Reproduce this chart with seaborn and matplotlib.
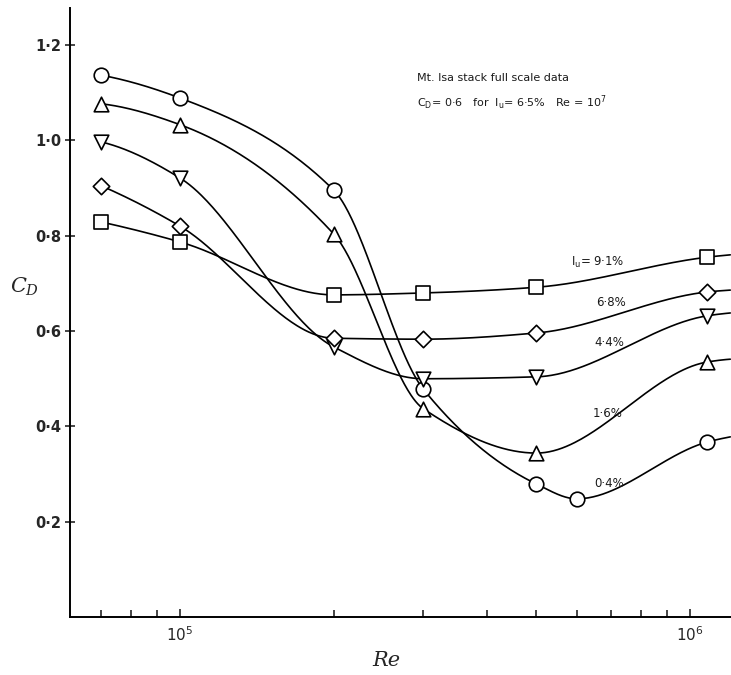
import numpy as np
import pandas as pd
import matplotlib
matplotlib.use('Agg')
import matplotlib.pyplot as plt
import matplotlib.ticker as mticker
import seaborn as sns

re_04 = [7e4, 1e5, 2e5, 3e5, 5e5, 6e5, 1.08e6]
cd_04 = [1.137, 1.089, 0.896, 0.478, 0.279, 0.248, 0.367]
re_16 = [7e4, 1e5, 2e5, 3e5, 5e5, 1.08e6]
cd_16 = [1.077, 1.033, 0.804, 0.437, 0.344, 0.535]
re_44 = [7e4, 1e5, 2e5, 3e5, 5e5, 1.08e6]
cd_44 = [0.997, 0.921, 0.567, 0.500, 0.504, 0.632]
re_68 = [7e4, 1e5, 2e5, 3e5, 5e5, 1.08e6]
cd_68 = [0.905, 0.820, 0.585, 0.583, 0.596, 0.682]
re_91 = [7e4, 1e5, 2e5, 3e5, 5e5, 1.08e6]
cd_91 = [0.829, 0.787, 0.676, 0.680, 0.692, 0.755]

# where each hand-drawn curve leaves the frame (right edge)
re_edge = 1.2e6
cd_edge = [0.378, 0.541, 0.638, 0.686, 0.760]

labels = ['0·4%', '1·6%', '4·4%', '6·8%', 'I$_{\\rm u}$= 9·1%']
markers = ['o', '^', 'v', 'D', 's']
marker_sizes = [110, 110, 110, 70, 100]
label_re = [6.95e5, 6.9e5, 6.95e5, 7.0e5, 6.6e5]
label_cd = [0.281, 0.428, 0.575, 0.659, 0.745]

series = [(re_04, cd_04), (re_16, cd_16), (re_44, cd_44),
          (re_68, cd_68), (re_91, cd_91)]


def pchip_curve(x, y, n=80):
    """Monotone piecewise cubic (Fritsch-Butland) through the points."""
    x = np.asarray(x, float)
    y = np.asarray(y, float)
    h = np.diff(x)
    s = np.diff(y) / h
    d = np.zeros_like(y)
    for i in range(1, len(x) - 1):
        if s[i - 1] * s[i] > 0:
            w1 = 2 * h[i] + h[i - 1]
            w2 = h[i] + 2 * h[i - 1]
            d[i] = (w1 + w2) / (w1 / s[i - 1] + w2 / s[i])

    def end_slope(h0, h1, s0, s1):
        v = ((2 * h0 + h1) * s0 - h0 * s1) / (h0 + h1)
        if np.sign(v) != np.sign(s0):
            return 0.0
        if np.sign(s0) != np.sign(s1) and abs(v) > 3 * abs(s0):
            return 3 * s0
        return v

    d[0] = end_slope(h[0], h[1], s[0], s[1])
    d[-1] = end_slope(h[-1], h[-2], s[-1], s[-2])
    xs, ys = [], []
    for i in range(len(h)):
        t = np.linspace(0, 1, n, endpoint=(i == len(h) - 1))
        h00 = 2 * t**3 - 3 * t**2 + 1
        h10 = t**3 - 2 * t**2 + t
        h01 = -2 * t**3 + 3 * t**2
        h11 = t**3 - t**2
        xs.append(x[i] + t * h[i])
        ys.append(h00 * y[i] + h10 * h[i] * d[i] + h01 * y[i + 1] + h11 * h[i] * d[i + 1])
    return np.concatenate(xs), np.concatenate(ys)


rows = []
for k, (re, cd) in enumerate(series):
    lx = np.log10(list(re) + [re_edge])
    xs, ys = pchip_curve(lx, list(cd) + [cd_edge[k]])
    rows.append(pd.DataFrame({'Re': 10 ** xs, 'CD': ys, 'curve': k}))
curves = pd.concat(rows, ignore_index=True)

sns.set_theme(style='ticks')
plt.rcParams['font.family'] = ['DejaVu Sans']

fig = plt.figure(figsize=(7.31, 6.75), dpi=100)
ax = fig.add_axes([70 / 731, 58 / 675, 661 / 731, 609 / 675])

sns.lineplot(data=curves, x='Re', y='CD', units='curve', estimator=None,
             sort=False, color='black', linewidth=1.2, ax=ax)

for k, (re, cd) in enumerate(series):
    sns.scatterplot(x=re, y=cd, marker=markers[k], s=marker_sizes[k],
                    facecolor='white', edgecolor='black', linewidth=1.2,
                    zorder=3, ax=ax)
    ax.text(label_re[k], label_cd[k], labels[k], fontsize=8.5,
            ha='center', va='center', color='#1a1a1a')

ax.set_xscale('log')
ax.set_xlim(6.08e4, 1.204e6)
ax.set_ylim(0, 1.278)

ax.set_yticks([0.2, 0.4, 0.6, 0.8, 1.0, 1.2])
ax.yaxis.set_major_formatter(
    mticker.FuncFormatter(lambda v, p: f'{v:.1f}'.replace('.', '·')))
ax.xaxis.set_major_locator(mticker.FixedLocator([1e5, 1e6]))
ax.xaxis.set_minor_locator(mticker.LogLocator(base=10, subs=np.arange(2, 10)))
ax.xaxis.set_minor_formatter(mticker.NullFormatter())

ax.tick_params(axis='x', which='major', direction='in', length=6, width=1.2,
               labelsize=11, pad=6)
ax.tick_params(axis='x', which='minor', direction='in', length=5, width=1.2)
ax.tick_params(axis='y', direction='inout', length=7, width=1.2,
               labelsize=10.5, pad=3)
for lbl in ax.get_yticklabels():
    lbl.set_fontweight('bold')

sns.despine(ax=ax)
for side in ['left', 'bottom']:
    ax.spines[side].set_linewidth(1.4)
    ax.spines[side].set_color('black')

ax.set_ylabel('$C_D$', fontsize=15, rotation=0, math_fontfamily='dejavuserif',
              va='center', ha='center')
ax.yaxis.set_label_coords(-0.068, 0.542)
ax.set_xlabel('Re', fontsize=15, fontstyle='italic', family='DejaVu Serif',
              va='center', ha='center')
ax.xaxis.set_label_coords(0.478, -0.071)

ax.text(2.91e5, 1.131, 'Mt. Isa stack full scale data', fontsize=8,
        ha='left', va='center', color='#1a1a1a')
ax.text(2.91e5, 1.079,
        'C$_{\\rm D}$= 0·6   for  I$_{\\rm u}$= 6·5%   Re = 10$^7$',
        fontsize=8, ha='left', va='center', color='#1a1a1a')

fig.savefig('out.png', dpi=100)
